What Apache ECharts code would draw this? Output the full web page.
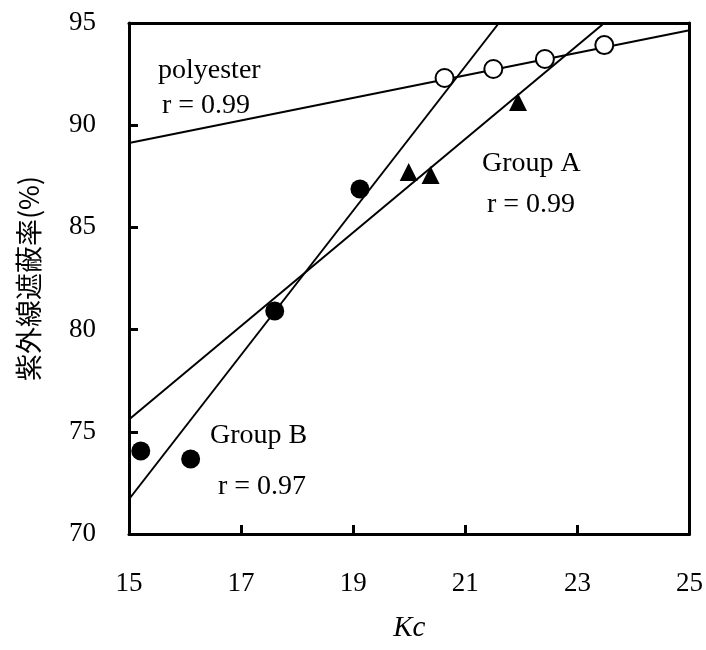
<!DOCTYPE html>
<html>
<head>
<meta charset="utf-8">
<script src="https://cdn.jsdelivr.net/npm/echarts@6/dist/echarts.min.js"></script>
<style>html,body{margin:0;padding:0;background:#fff}#c{width:706px;height:650px}</style>
</head>
<body>
<div id="c"></div>
<script>
// Data
var polyesterKc = [20.63, 21.50, 22.42, 23.48];
var polyesterUV = [92.31, 92.75, 93.24, 93.92];
var groupAKc = [19.99, 20.38, 21.94];
var groupAUV = [87.71, 87.56, 91.14];
var groupBKc = [15.21, 16.10, 17.60, 19.12];
var groupBUV = [74.06, 73.67, 80.91, 86.88];
// Regression line endpoints (Kc, UV)
var polyesterFitKc = [15, 25];
var polyesterFitUV = [89.13, 94.65];
var groupAFitKc = [15, 23.48];
var groupAFitUV = [75.6, 95];
var groupBFitKc = [15, 21.6];
var groupBFitUV = [71.7, 95];
// Axes
var xTicks = [15, 17, 19, 21, 23, 25];
var yTicks = [70, 75, 80, 85, 90, 95];
var xName = 'Kc';
var yName = '紫外線遮蔽率(%)';
var notes = [
  {text: 'polyester', x: 158, y: 72},
  {text: 'r = 0.99', x: 162, y: 107},
  {text: 'Group A', x: 482, y: 165},
  {text: 'r = 0.99', x: 487, y: 206},
  {text: 'Group B', x: 210, y: 437},
  {text: 'r = 0.97', x: 218, y: 488}
];

function pairs(xs, ys) { return xs.map(function (v, i) { return [v, ys[i]]; }); }

var serif = '"Liberation Serif", "Times New Roman", serif';
var axisLineStyle = {color: '#000', width: 3};
var chart = echarts.init(document.getElementById('c'), null, {renderer: 'canvas'});
var lineSeries = function (xs, ys) {
  return {type: 'line', data: pairs(xs, ys), symbol: 'none', clip: true,
    lineStyle: {color: '#000', width: 2}, silent: true, z: 2};
};
chart.setOption({
  animation: false,
  backgroundColor: '#fff',
  grid: {left: 129, right: 11, top: 23, bottom: 116},
  xAxis: [{
    type: 'value', min: xTicks[0], max: xTicks[xTicks.length - 1], interval: 2, position: 'bottom',
    axisLine: {show: true, lineStyle: axisLineStyle},
    axisTick: {show: true, inside: true, length: 9, lineStyle: {color: '#000', width: 3}},
    splitLine: {show: false},
    axisLabel: {margin: 36, color: '#000', fontFamily: serif, fontSize: 27},
    name: xName, nameLocation: 'middle', nameGap: 80,
    nameTextStyle: {color: '#000', fontFamily: serif, fontSize: 29, fontStyle: 'italic'}
  }, {
    type: 'value', min: xTicks[0], max: xTicks[xTicks.length - 1], position: 'top',
    axisLine: {show: true, lineStyle: axisLineStyle},
    axisTick: {show: false}, axisLabel: {show: false}, splitLine: {show: false}
  }],
  yAxis: [{
    type: 'value', min: yTicks[0], max: yTicks[yTicks.length - 1], interval: 5, position: 'left',
    axisLine: {show: true, lineStyle: axisLineStyle},
    axisTick: {show: true, inside: true, length: 9, lineStyle: {color: '#000', width: 3}},
    splitLine: {show: false},
    axisLabel: {margin: 33, color: '#000', fontFamily: serif, fontSize: 27},
    name: yName, nameLocation: 'middle', nameGap: 87, nameRotate: 90,
    nameTextStyle: {color: '#000', fontFamily: '"Noto Sans CJK JP", sans-serif', fontSize: 27}
  }, {
    type: 'value', min: yTicks[0], max: yTicks[yTicks.length - 1], position: 'right',
    axisLine: {show: true, lineStyle: axisLineStyle},
    axisTick: {show: false}, axisLabel: {show: false}, splitLine: {show: false}
  }],
  series: [
    lineSeries(polyesterFitKc, polyesterFitUV),
    lineSeries(groupAFitKc, groupAFitUV),
    lineSeries(groupBFitKc, groupBFitUV),
    {type: 'scatter', name: 'polyester', data: pairs(polyesterKc, polyesterUV), symbol: 'circle', symbolSize: 18,
      itemStyle: {color: '#fff', borderColor: '#000', borderWidth: 2, opacity: 1}, z: 3},
    {type: 'scatter', name: 'Group A', data: pairs(groupAKc, groupAUV), symbol: 'triangle', symbolSize: 18,
      itemStyle: {color: '#000', opacity: 1}, z: 3},
    {type: 'scatter', name: 'Group B', data: pairs(groupBKc, groupBUV), symbol: 'circle', symbolSize: 19,
      itemStyle: {color: '#000', opacity: 1}, z: 3}
  ],
  graphic: notes.map(function (n) {
    return {type: 'text', left: n.x, top: n.y - 15, z: 10,
      style: {text: n.text, fill: '#000', font: '28px ' + serif, textVerticalAlign: 'top'}};
  })
});
</script>
</body>
</html>
